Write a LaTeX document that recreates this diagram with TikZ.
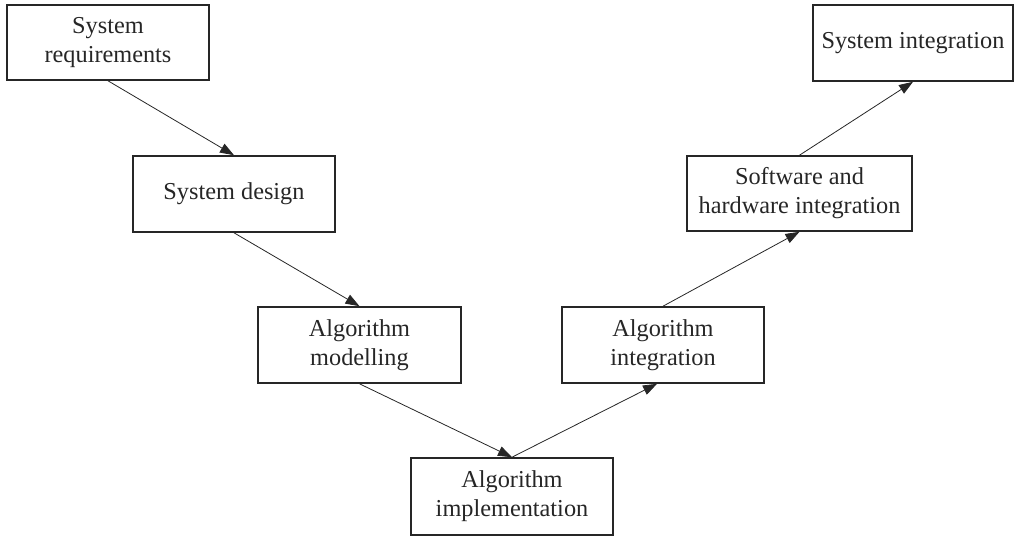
\documentclass[tikz,border=0pt]{standalone}
\usepackage{fontspec}
\setmainfont{Liberation Serif}
\usetikzlibrary{arrows.meta}
\begin{document}
\begin{tikzpicture}[x=1pt,y=-1pt,
  stagebox/.style={draw=black!85, line width=1.6pt, inner sep=0pt, align=center,
    font=\fontsize{24.3}{29}\selectfont, text=black!85},
  flowarrow/.style={draw=black!85, line width=0.8pt, -{Triangle[length=14pt,width=10pt]}}]
\useasboundingbox (0,0) rectangle (1015,536);
\node[stagebox, minimum width=202pt, minimum height=75pt] (req) at (108,42.5) {System\\requirements};
\node[stagebox, minimum width=202pt, minimum height=76pt] (des) at (234,194) {System design};
\node[stagebox, minimum width=203pt, minimum height=76pt] (mod) at (359.5,345) {Algorithm\\modelling};
\node[stagebox, minimum width=202pt, minimum height=77pt] (imp) at (512,496.5) {Algorithm\\implementation};
\node[stagebox, minimum width=202pt, minimum height=76pt] (aint) at (663,345) {Algorithm\\integration};
\node[stagebox, minimum width=225pt, minimum height=75pt] (shw) at (799.5,193.5) {Software and\\hardware integration};
\node[stagebox, minimum width=200pt, minimum height=76pt] (sint) at (913,43) {System integration};
\draw[flowarrow] (req.south) -- (des.north);
\draw[flowarrow] (des.south) -- (mod.north);
\draw[flowarrow] (mod.south) -- (imp.north);
\draw[flowarrow] (imp.north) -- ([xshift=-6pt]aint.south);
\draw[flowarrow] (aint.north) -- (shw.south);
\draw[flowarrow] (shw.north) -- (sint.south);
\end{tikzpicture}
\end{document}
